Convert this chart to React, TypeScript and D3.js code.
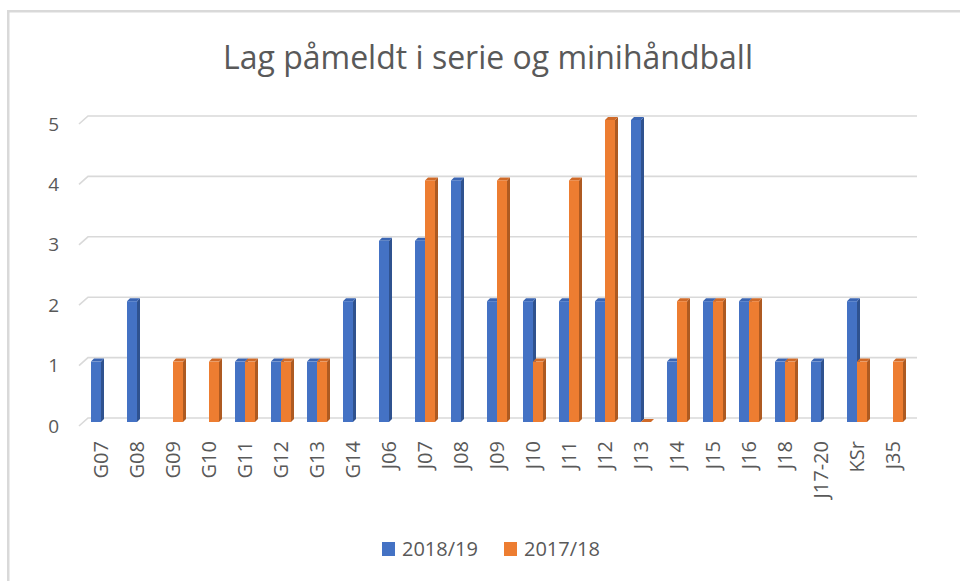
import { useEffect, useRef } from "react";
import * as d3 from "d3";

const categories = [
  "G07", "G08", "G09", "G10", "G11", "G12", "G13", "G14", "J06", "J07", "J08", "J09",
  "J10", "J11", "J12", "J13", "J14", "J15", "J16", "J18", "J17-20", "KSr", "J35",
];
// null = ingen verdi (ingen søyle), 0 = flat søyle
const season1819 = [1, 2, null, null, 1, 1, 1, 2, 3, 3, 4, 2, 2, 2, 2, 5, 1, 2, 2, 1, 1, 2, null];
const season1718 = [null, null, 1, 1, 1, 1, 1, null, null, 4, null, 4, 1, 4, 5, 0, 2, 2, 2, 1, null, 1, 1];
const yTicks = [0, 1, 2, 3, 4, 5];
const seriesNames = ["2018/19", "2017/18"];

const width = 960;
const height = 581;
const font = "'Open Sans', 'Liberation Sans', sans-serif";
const textColor = "#595959";

const palette = [
  { face: "#4472C4", side: "#2F528F", top: "#3A65B3" },
  { face: "#ED7D31", side: "#AE5A21", top: "#D06A28" },
];

export default function App() {
  const ref = useRef<SVGSVGElement | null>(null);

  useEffect(() => {
    const svg = d3.select(ref.current);
    svg.selectAll("*").remove();

    // ramme
    svg
      .append("rect")
      .attr("x", 8.25)
      .attr("y", 11.25)
      .attr("width", 1200)
      .attr("height", 1200)
      .attr("fill", "#fff")
      .attr("stroke", "#d9d9d9")
      .attr("stroke-width", 2.5);

    // tittel
    svg
      .append("text")
      .attr("x", 488)
      .attr("y", 69)
      .attr("text-anchor", "middle")
      .attr("font-family", font)
      .attr("font-size", 32)
      .attr("fill", textColor)
      .text("Lag påmeldt i serie og minihåndball");

    const x = d3.scaleBand<string>().domain(categories).range([83, 911]);
    const inner = d3.scaleBand<number>().domain([0, 1]).range([-10, 10]);
    const y = d3.scaleLinear().domain([0, 5]).range([422, 120]);

    const back = { dx: 9, dy: -8 }; // bakre vegg
    const depth = { dx: 3, dy: -3 }; // søyledybde

    // rutenett (3D gulv/vegg)
    const grid = svg.append("g").attr("stroke", "#d9d9d9").attr("stroke-width", 1.6).attr("fill", "none");
    yTicks.forEach((t) => {
      const yf = y(t) + 4;
      grid
        .append("path")
        .attr("d", `M79,${yf}L${79 + back.dx},${yf + back.dy}L917,${yf + back.dy}`);
    });

    // y-akse
    svg
      .append("g")
      .selectAll("text")
      .data(yTicks)
      .join("text")
      .attr("x", 59)
      .attr("y", (d) => y(d) + 4)
      .attr("dy", "0.35em")
      .attr("text-anchor", "end")
      .attr("font-family", font)
      .attr("font-size", 19)
      .attr("fill", textColor)
      .text((d) => d);

    // søyler
    const bars = svg.append("g");
    [season1819, season1718].forEach((values, s) => {
      const c = palette[s];
      values.forEach((v, i) => {
        if (v === null) return;
        const x0 = x(categories[i])! + x.bandwidth() / 2 + inner(s)!;
        const w = inner.bandwidth();
        const y0 = y(0);
        const y1 = y(v);
        const g = bars.append("g");
        // side
        g.append("path")
          .attr("d", `M${x0 + w},${y0}L${x0 + w + depth.dx},${y0 + depth.dy}L${x0 + w + depth.dx},${y1 + depth.dy}L${x0 + w},${y1}Z`)
          .attr("fill", c.side);
        // topp
        g.append("path")
          .attr("d", `M${x0},${y1}L${x0 + depth.dx},${y1 + depth.dy}L${x0 + w + depth.dx},${y1 + depth.dy}L${x0 + w},${y1}Z`)
          .attr("fill", c.top);
        // front
        g.append("rect")
          .attr("x", x0)
          .attr("y", y1)
          .attr("width", w)
          .attr("height", y0 - y1)
          .attr("fill", c.face);
      });
    });

    // x-akse
    svg
      .append("g")
      .selectAll("text")
      .data(categories)
      .join("text")
      .attr("transform", (d) => `translate(${x(d)! + x.bandwidth() / 2},441) rotate(-90)`)
      .attr("dy", "0.35em")
      .attr("text-anchor", "end")
      .attr("font-family", font)
      .attr("font-size", 20)
      .attr("fill", textColor)
      .text((d) => d);

    // legende
    const legendX = [382, 504];
    const legend = svg.append("g");
    seriesNames.forEach((name, s) => {
      legend
        .append("rect")
        .attr("x", legendX[s])
        .attr("y", 542)
        .attr("width", 13)
        .attr("height", 14)
        .attr("fill", palette[s].face);
      legend
        .append("text")
        .attr("x", legendX[s] + 20)
        .attr("y", 556)
        .attr("font-family", font)
        .attr("font-size", 20)
        .attr("fill", textColor)
        .text(name);
    });
  }, []);

  return (
    <svg
      ref={ref}
      width={width}
      height={height}
      style={{ position: "absolute", left: 0, top: 0, background: "#fff" }}
    />
  );
}
